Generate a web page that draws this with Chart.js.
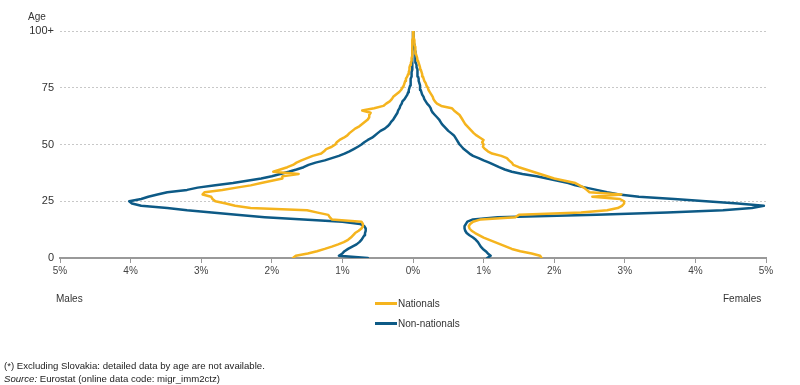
<!DOCTYPE html>
<html>
<head>
<meta charset="utf-8">
<script src="https://cdn.jsdelivr.net/npm/chart.js@4/dist/chart.umd.min.js"></script>
<style>
  html,body{margin:0;padding:0;background:#fff;}
  #wrap{position:relative;width:800px;height:385px;font-family:"Liberation Sans",Arial,sans-serif;color:#333;}
  #c{position:absolute;left:0;top:0;}
  .t{position:absolute;font-size:10px;white-space:nowrap;line-height:1;}
  .sw{position:absolute;width:22px;height:3px;}
  .foot{position:absolute;left:4px;font-size:9.6px;white-space:nowrap;line-height:1;color:#222;}
</style>
</head>
<body>
<div id="wrap">
  <canvas id="c" width="800" height="385"></canvas>
  <div class="t" style="left:28px;top:12px;">Age</div>
  <div class="t" style="left:56px;top:294px;">Males</div>
  <div class="t" style="left:723px;top:294px;">Females</div>
  <div class="sw" style="left:375px;top:302px;background:#F5B41E;"></div>
  <div class="t" style="left:398px;top:299px;">Nationals</div>
  <div class="sw" style="left:375px;top:322px;background:#0D5A86;"></div>
  <div class="t" style="left:398px;top:319px;">Non-nationals</div>
  <div class="foot" style="top:361px;">(*) Excluding Slovakia: detailed data by age are not available.</div>
  <div class="foot" style="top:374px;"><i>Source:</i> Eurostat (online data code: migr_imm2ctz)</div>
</div>
<script>
// Ages 0..100 (100 = "100+")
const ages = Array.from({length:101}, (_, i) => i);

const seriesNames = ["Nationals", "Non-nationals"];

// Males, nationals (% of total, shown to the left)
const malesNationals = [
 -1.70,-1.66,-1.49,-1.36,-1.25,-1.15,-1.06,-0.98,-0.92,-0.88,
 -0.85,-0.82,-0.77,-0.73,-0.71,-0.71,-0.73,-1.15,-1.18,-1.20,
 -1.35,-1.50,-2.30,-2.52,-2.65,-2.80,-2.84,-2.86,-2.98,-2.95,
 -2.70,-2.50,-2.30,-2.15,-2.00,-1.85,-1.85,-1.62,-1.98,-1.88,
 -1.78,-1.70,-1.65,-1.58,-1.50,-1.42,-1.30,-1.26,-1.23,-1.15,
 -1.10,-1.08,-1.04,-0.98,-0.93,-0.90,-0.86,-0.82,-0.76,-0.72,
 -0.68,-0.64,-0.62,-0.62,-0.60,-0.72,-0.55,-0.42,-0.38,-0.33,
 -0.30,-0.28,-0.24,-0.20,-0.17,-0.15,-0.13,-0.12,-0.11,-0.10,
 -0.08,-0.07,-0.06,-0.05,-0.05,-0.04,-0.03,-0.02,-0.02,-0.01,
 -0.01,-0.01,-0.01,-0.01,-0.01,-0.01,-0.01,0.00,0.00,0.00,0.00
];
// Females, nationals
const femalesNationals = [
 1.82,1.80,1.68,1.52,1.40,1.32,1.24,1.16,1.08,1.00,
 0.94,0.88,0.83,0.80,0.79,0.81,0.85,0.96,1.45,1.50,
 2.38,2.75,2.90,2.96,2.99,2.99,2.93,2.54,2.95,2.50,
 2.46,2.42,2.36,2.30,2.15,2.00,1.90,1.80,1.70,1.60,
 1.50,1.42,1.40,1.36,1.33,1.25,1.12,1.06,1.02,0.99,
 1.00,0.98,1.00,0.95,0.90,0.86,0.83,0.80,0.77,0.74,
 0.72,0.70,0.68,0.66,0.62,0.58,0.55,0.40,0.34,0.31,
 0.29,0.28,0.26,0.24,0.22,0.21,0.19,0.18,0.16,0.15,
 0.14,0.13,0.12,0.11,0.10,0.09,0.08,0.07,0.06,0.05,
 0.04,0.04,0.03,0.03,0.02,0.02,0.02,0.01,0.01,0.01,0.00
];
// Males, non-nationals
const malesNonNationals = [
 -0.64,-1.05,-1.00,-0.97,-0.92,-0.86,-0.80,-0.76,-0.73,-0.71,
 -0.69,-0.68,-0.67,-0.67,-0.69,-0.75,-1.00,-1.55,-2.10,-2.50,
 -2.85,-3.20,-3.48,-3.85,-3.98,-4.02,-3.85,-3.75,-3.62,-3.48,
 -3.20,-3.05,-2.80,-2.55,-2.35,-2.15,-2.00,-1.88,-1.76,-1.65,
 -1.55,-1.48,-1.38,-1.25,-1.15,-1.05,-0.97,-0.90,-0.84,-0.78,
 -0.73,-0.69,-0.64,-0.58,-0.54,-0.50,-0.46,-0.40,-0.36,-0.33,
 -0.31,-0.28,-0.26,-0.24,-0.22,-0.21,-0.19,-0.18,-0.16,-0.15,
 -0.12,-0.10,-0.08,-0.07,-0.06,-0.05,-0.04,-0.04,-0.03,-0.03,
 -0.02,-0.02,-0.02,-0.01,-0.01,-0.01,-0.01,-0.01,-0.01,-0.01,
 -0.01,-0.01,-0.01,0.00,0.00,0.00,0.00,0.00,0.00,0.00,0.00
];
// Females, non-nationals
const femalesNonNationals = [
 1.05,1.10,1.06,1.03,0.99,0.96,0.94,0.92,0.89,0.85,
 0.80,0.76,0.74,0.73,0.73,0.75,0.77,0.85,1.20,2.60,
 3.60,4.39,4.80,4.97,4.60,4.15,3.70,3.20,2.92,2.75,
 2.60,2.45,2.30,2.20,2.05,1.90,1.75,1.55,1.40,1.30,
 1.22,1.15,1.08,1.00,0.93,0.85,0.80,0.76,0.72,0.69,
 0.66,0.64,0.62,0.60,0.58,0.54,0.50,0.47,0.44,0.41,
 0.39,0.37,0.34,0.31,0.28,0.26,0.25,0.23,0.20,0.18,
 0.16,0.15,0.13,0.12,0.11,0.10,0.10,0.09,0.08,0.08,
 0.07,0.07,0.06,0.06,0.05,0.05,0.04,0.04,0.04,0.03,
 0.03,0.03,0.02,0.02,0.02,0.01,0.01,0.01,0.01,0.00,0.00
];

const xTicks = [-5,-4,-3,-2,-1,0,1,2,3,4,5];
const yTicks = [0,25,50,75,100];

const colNat = "#F5B41E";
const colNon = "#0D5A86";

function pts(vals){ return vals.map((v,i)=>({x:v, y:ages[i]})); }
function ds(label, vals, color){
  return {label, data:pts(vals), borderColor:color, backgroundColor:color,
    borderWidth:2.5, borderJoinStyle:'round', borderCapStyle:'round',
    pointRadius:0, pointHoverRadius:0, showLine:true, tension:0, fill:false};
}

new Chart(document.getElementById('c'), {
  type:'scatter',
  data:{datasets:[
    ds(seriesNames[0]+' (males)', malesNationals, colNat),
    ds(seriesNames[0]+' (females)', femalesNationals, colNat),
    ds(seriesNames[1]+' (males)', malesNonNationals, colNon),
    ds(seriesNames[1]+' (females)', femalesNonNationals, colNon)
  ]},
  options:{
    responsive:false, animation:false,
    layout:{padding:{left:0, right:34, top:31, bottom:107}},
    plugins:{legend:{display:false}, tooltip:{enabled:false}},
    scales:{
      x:{type:'linear', min:-5, max:5,
        afterBuildTicks:s=>{ s.ticks = xTicks.map(v=>({value:v})); },
        afterFit:s=>{ s.height = 20; },
        ticks:{callback:v=>Math.abs(v)+'%', color:'#444', font:{family:'"Liberation Sans", Arial', size:10}, padding:2, maxRotation:0},
        grid:{drawOnChartArea:false, drawTicks:true, tickLength:5, color:'#999'},
        border:{display:true, color:'#999', width:2}
      },
      y:{type:'linear', min:0, max:100,
        afterBuildTicks:s=>{ s.ticks = yTicks.map(v=>({value:v})); },
        afterFit:s=>{ s.width = 60; },
        ticks:{callback:v=> v===100 ? '100+' : String(v), color:'#333', font:{family:'"Liberation Sans", Arial', size:11}, padding:6},
        grid:{color:'#c8c8c8', tickLength:0, drawTicks:false},
        border:{display:false, dash:[2,2]}
      }
    }
  }
});
</script>
</body>
</html>
